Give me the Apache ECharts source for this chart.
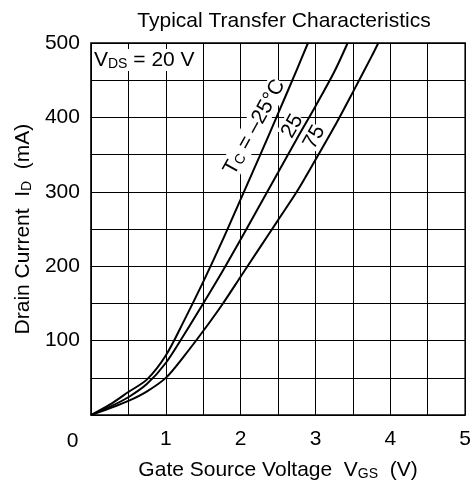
<!DOCTYPE html>
<html>
<head>
<meta charset="utf-8">
<script src="https://cdn.jsdelivr.net/npm/echarts@6/dist/echarts.min.js"></script>
<style>html,body{margin:0;padding:0;background:#fff}#c{width:474px;height:486px}</style>
</head>
<body>
<div id="c"></div>
<script>
// Tc = -25 °C
const vgsM25 = [0, 0.25, 0.5, 0.75, 1.0, 1.25, 1.5, 1.75, 2.0, 2.25, 2.5, 2.75, 2.9];
const idM25  = [0, 14, 31, 48, 80, 128, 179, 233, 290, 347, 405, 464, 500];
// Tc = 25 °C
const vgs25 = [0, 0.25, 0.5, 0.75, 1.0, 1.25, 1.5, 1.75, 2.0, 2.25, 2.5, 2.75, 3.0, 3.25, 3.43];
const id25  = [0, 11, 24, 42, 70, 109, 150, 192, 236, 281, 326, 371, 415, 461, 500];
// Tc = 75 °C
const vgs75 = [0, 0.25, 0.5, 0.75, 1.0, 1.25, 1.5, 1.75, 2.0, 2.25, 2.5, 2.75, 3.0, 3.25, 3.5, 3.75, 3.84];
const id75  = [0, 9, 19, 32, 50, 80, 113, 148, 186, 224, 262, 300, 343, 387, 434, 482, 500];

const xTickLabels = ['1', '2', '3', '4', '5'];
const yTickLabels = ['100', '200', '300', '400', '500'];

const FONT = 'Liberation Sans, Arial, Helvetica, sans-serif';
const zip = (a, b) => a.map((v, i) => [v, b[i]]);
const subRich = {
  sub: { fontSize: 14, fontFamily: FONT, color: '#000', lineHeight: 14, padding: [12, 0, 0, 0], verticalAlign: 'bottom' },
  n: { fontSize: 21, fontFamily: FONT, color: '#000', lineHeight: 22, verticalAlign: 'bottom', padding: [4, 0, 0, 0] }
};

const chart = echarts.init(document.getElementById('c'), null, { renderer: 'canvas' });
const lineSeries = (name, xs, ys) => ({
  name, type: 'line', data: zip(xs, ys), showSymbol: false, smooth: 0.3,
  lineStyle: { color: '#000', width: 2 }, z: 3, clip: true
});

chart.setOption({
  animation: false,
  backgroundColor: '#fff',
  title: {
    text: 'Typical Transfer Characteristics', left: 279, top: 6, textAlign: 'center',
    textStyle: { fontFamily: FONT, fontSize: 21, fontWeight: 'normal', color: '#000' }
  },
  grid: { left: 89, right: 7, top: 43, bottom: 69, show: true, borderColor: '#000', borderWidth: 1.5, backgroundColor: 'transparent' },
  xAxis: {
    type: 'value', min: 0, max: 5, interval: 0.5,
    axisLine: { show: false }, axisTick: { show: false },
    splitLine: { show: true, lineStyle: { color: '#000', width: 1 } },
    axisLabel: {
      margin: 14, fontSize: 21, fontFamily: FONT, color: '#000',
      formatter: v => xTickLabels.includes(String(v)) ? String(v) : ''
    },
    name: '{n|Gate Source Voltage  V}{sub|GS}{n|  (V)}',
    nameLocation: 'middle', nameGap: 39,
    nameTextStyle: { rich: subRich }
  },
  yAxis: {
    type: 'value', min: 0, max: 500, interval: 50,
    axisLine: { show: false }, axisTick: { show: false },
    splitLine: { show: true, lineStyle: { color: '#000', width: 1 } },
    axisLabel: {
      margin: 11, fontSize: 21, fontFamily: FONT, color: '#000',
      formatter: v => yTickLabels.includes(String(v)) ? String(v) : ''
    },
    name: '{n|Drain Current  I}{sub|D}{n|  (mA)}',
    nameLocation: 'middle', nameGap: 52,
    nameTextStyle: { rich: subRich }
  },
  graphic: [
    { type: 'text', x: 72.5, y: 441, z: 5, style: { text: '0', font: '21px ' + FONT, fill: '#000', align: 'center', verticalAlign: 'middle' } },
    { type: 'text', x: 93, y: 60, z: 1, style: {
        text: '{n|V}{sub|DS}{n| = 20 V}', align: 'left', verticalAlign: 'middle',
        backgroundColor: '#fff', padding: [0, 1, 0, 1], rich: subRich } },
    { type: 'text', x: 254, y: 127, z: 1, rotation: 61 * Math.PI / 180, style: {
        text: '{n|T}{sub|C}{n| = –25°C}', align: 'center', verticalAlign: 'middle',
        backgroundColor: '#fff', rich: subRich } },
    { type: 'text', x: 292, y: 126, z: 1, rotation: 61 * Math.PI / 180, style: {
        text: '{n|25}', align: 'center', verticalAlign: 'middle', backgroundColor: '#fff', rich: subRich } },
    { type: 'text', x: 314, y: 137, z: 1, rotation: 61 * Math.PI / 180, style: {
        text: '{n|75}', align: 'center', verticalAlign: 'middle', backgroundColor: '#fff', rich: subRich } }
  ],
  series: [
    lineSeries('-25', vgsM25, idM25),
    lineSeries('25', vgs25, id25),
    lineSeries('75', vgs75, id75)
  ]
});
</script>
</body>
</html>
